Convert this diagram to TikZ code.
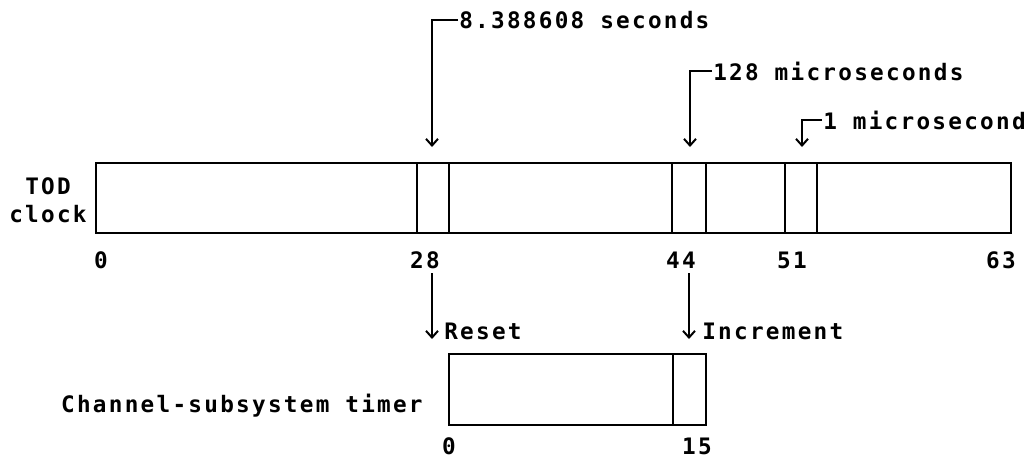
\documentclass[tikz,border=0pt]{standalone}
\usepackage{fontspec}
\setmonofont[LetterSpace=10]{DejaVu Sans Mono}
\usetikzlibrary{arrows.meta}
\begin{document}
\begin{tikzpicture}[x=.75pt,y=-.75pt,line width=2pt,font=\ttfamily\bfseries\fontsize{17}{18}\selectfont,
txt/.style={inner sep=0pt},tip/.style={-{Straight Barb[length=5pt,width=9pt,line width=1.5pt]}}]
\useasboundingbox(0,0)rectangle(1036,460);
\coordinate(A)at(96,163);\coordinate(B)at(1011,233);\coordinate(C)at(449,354);\coordinate(D)at(706,425);
\draw(A)rectangle(B);\foreach\x in{417,449,672,706,785,817}{\draw(\x,163)--(\x,233);}
\draw(C)rectangle(D) (673,354)--(673,425);
\node[txt,align=center](tod)at(48,200){TOD\\[3pt]clock};
\node[txt,anchor=base east](cst)at(424,412){Channel-subsystem timer};
\foreach\n/\x/\t in{b0/101/0,b28/425/28,b44/681/44,b51/792/51,b63/1001/63}{\node[txt](\n)at(\x,260){\t};}
\foreach\n/\x/\t in{c0/449/0,c15/697/15}{\node[txt](\n)at(\x,446){\t};}
\node[txt,anchor=west](s8)at(458,20){8.388608 seconds};
\node[txt,anchor=west](s128)at(712,71){128 microseconds};
\node[txt,anchor=west](s1)at(822,120){1 microsecond};
\coordinate(a28)at(432,147);\coordinate(a44)at(690,147);\coordinate(a51)at(802,147);
\draw[tip](s8.west)-|(a28);\draw[tip](s128.west)-|(a44);\draw[tip](s1.west)-|(a51);
\node[txt,anchor=west](rs)at(443,331){Reset};\node[txt,anchor=west](inc)at(701,331){Increment};
\coordinate(t28)at(432,273);\coordinate(r28)at(432,339);\coordinate(t44)at(689,273);\coordinate(r44)at(689,339);
\draw[tip](t28)--(r28);\draw[tip](t44)--(r44);
\end{tikzpicture}
\end{document}
